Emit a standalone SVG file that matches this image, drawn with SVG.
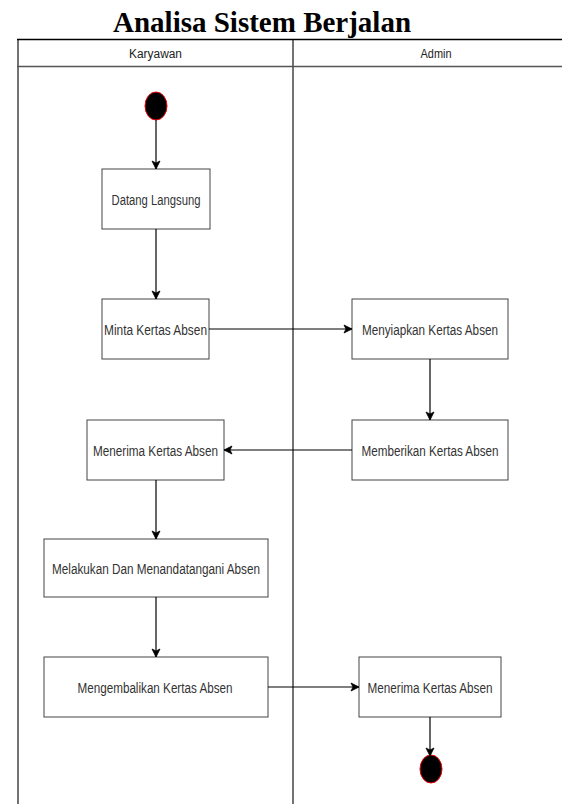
<svg xmlns="http://www.w3.org/2000/svg" width="562" height="804" viewBox="0 0 562 804">
<style>
.title{font-family:"Liberation Serif","Times New Roman",serif;font-weight:bold;font-size:29px;fill:#000}
.hdr{font-family:"Liberation Sans",Arial,sans-serif;font-size:12px;fill:#222;text-anchor:middle}
.box rect{fill:#fff;stroke:#444;stroke-width:1}
.box text{font-family:"Liberation Sans",Arial,sans-serif;font-size:14px;fill:#333;text-anchor:middle}
.lane{stroke:#444;stroke-width:1.5;fill:none}
.conn line{stroke:#000;stroke-width:1.2;marker-end:url(#arr)}
.term{fill:#000;stroke:#e00;stroke-width:1}
</style>
<defs>
<marker id="arr" markerUnits="userSpaceOnUse" markerWidth="10" markerHeight="10" viewBox="0 0 10 10" refX="9" refY="5" orient="auto">
<path d="M1,1 L9,5 L1,9 L3,5 Z" fill="#000" stroke="#000" stroke-width="0.8"/>
</marker>
</defs>
<rect width="562" height="804" fill="#fff"/>
<text class="title" x="113" y="32">Analisa Sistem Berjalan</text>
<g id="swimlane">
<line class="lane" x1="18" y1="39.5" x2="18" y2="804" stroke="#777"/>
<line class="lane" x1="293" y1="39.5" x2="293" y2="804"/>
<line x1="17" y1="39.5" x2="562" y2="39.5" stroke="#000" stroke-width="1.5"/>
<line x1="17" y1="66.5" x2="562" y2="66.5" stroke="#555" stroke-width="1.5"/>
<text class="hdr" x="155.5" y="57.5" textLength="53" lengthAdjust="spacingAndGlyphs">Karyawan</text>
<text class="hdr" x="436" y="57.5" textLength="31" lengthAdjust="spacingAndGlyphs">Admin</text>
</g>
<g id="start"><ellipse class="term" cx="156" cy="106" rx="11" ry="14"/></g>
<g id="n1" class="box"><rect x="102" y="169" width="108" height="60"/><text x="156" y="205" textLength="89" lengthAdjust="spacingAndGlyphs">Datang Langsung</text></g>
<g id="n2" class="box"><rect x="102" y="299" width="107" height="60"/><text x="155.5" y="335" textLength="103" lengthAdjust="spacingAndGlyphs">Minta Kertas Absen</text></g>
<g id="n3" class="box"><rect x="352" y="299" width="156" height="60"/><text x="430" y="335" textLength="136" lengthAdjust="spacingAndGlyphs">Menyiapkan Kertas Absen</text></g>
<g id="n4" class="box"><rect x="352" y="420" width="156" height="60"/><text x="430" y="456" textLength="137" lengthAdjust="spacingAndGlyphs">Memberikan Kertas Absen</text></g>
<g id="n5" class="box"><rect x="87" y="420" width="137" height="60"/><text x="155.5" y="456" textLength="125" lengthAdjust="spacingAndGlyphs">Menerima Kertas Absen</text></g>
<g id="n6" class="box"><rect x="44" y="539" width="224" height="58"/><text x="156" y="574" textLength="208" lengthAdjust="spacingAndGlyphs">Melakukan Dan Menandatangani Absen</text></g>
<g id="n7" class="box"><rect x="44" y="657" width="224" height="60"/><text x="155" y="693" textLength="155" lengthAdjust="spacingAndGlyphs">Mengembalikan Kertas Absen</text></g>
<g id="n8" class="box"><rect x="359" y="657" width="142" height="60"/><text x="430" y="693" textLength="125" lengthAdjust="spacingAndGlyphs">Menerima Kertas Absen</text></g>
<g id="end"><ellipse class="term" cx="431" cy="769" rx="11" ry="14"/></g>
<g id="connectors" class="conn">
<line x1="156" y1="120" x2="156" y2="169"/>
<line x1="156" y1="229" x2="156" y2="299"/>
<line x1="209" y1="329" x2="352" y2="329"/>
<line x1="430" y1="359" x2="430" y2="420"/>
<line x1="352" y1="450" x2="224" y2="450"/>
<line x1="156" y1="480" x2="156" y2="539"/>
<line x1="156" y1="597" x2="156" y2="657"/>
<line x1="268" y1="687" x2="359" y2="687"/>
<line x1="430" y1="717" x2="430" y2="756"/>
</g>
</svg>
